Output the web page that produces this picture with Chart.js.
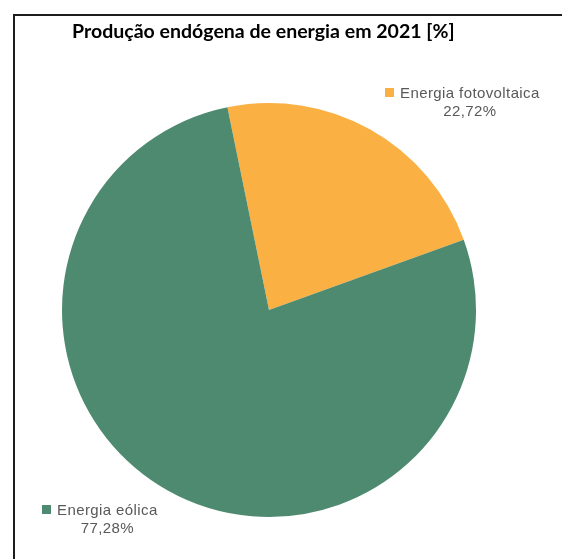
<!DOCTYPE html>
<html>
<head>
<meta charset="utf-8">
<script src="https://cdn.jsdelivr.net/npm/chart.js@4/dist/chart.umd.min.js"></script>
<style>
  html, body { margin: 0; padding: 0; background: #ffffff; overflow: hidden; }
  canvas { display: block; }
</style>
</head>
<body>
<canvas id="c" width="562" height="559"></canvas>
<script>
const categories = ['Energia fotovoltaica', 'Energia eólica'];
const values = [22.72, 77.28];
const sliceColors = ['#FAB042', '#4E8A6F'];
const titleText = 'Produção endógena de energia em 2021 [%]';

const fmtPct = v => v.toFixed(2).replace('.', ',') + '%';

const decorPlugin = {
  id: 'decor',
  afterDraw(chart, args, opts) {
    const ctx = chart.ctx;
    ctx.save();
    // frame
    ctx.fillStyle = '#1c1c1c';
    ctx.fillRect(13, 14, 549, 2);
    ctx.fillRect(13, 14, 2, 545);

    // title
    ctx.fillStyle = '#000000';
    let size = 18;
    ctx.font = 'bold ' + size + 'px Lato, "Liberation Sans", sans-serif';
    const w = ctx.measureText(titleText).width;
    size = size * 383 / w;
    ctx.font = 'bold ' + size.toFixed(2) + 'px Lato, "Liberation Sans", sans-serif';
    ctx.textBaseline = 'alphabetic';
    ctx.textAlign = 'left';
    ctx.fillText(titleText, 72, 38);

    // data labels
    ctx.font = '15px "Liberation Sans", Arial, sans-serif';
    if ('letterSpacing' in ctx) ctx.letterSpacing = '0.4px';
    opts.anchors.forEach((a, i) => {
      const name = chart.data.labels[i];
      const val = chart.data.datasets[0].data[i];
      const color = chart.data.datasets[0].backgroundColor[i];
      ctx.fillStyle = color;
      ctx.fillRect(a.x - 15, a.y - 10, 9, 9);
      ctx.fillStyle = '#595959';
      ctx.textAlign = 'left';
      ctx.fillText(name, a.x, a.y);
      const nw = ctx.measureText(name).width;
      ctx.textAlign = 'center';
      ctx.fillText(fmtPct(val), a.x + nw / 2, a.y + 18);
    });
    ctx.restore();
  }
};

new Chart(document.getElementById('c'), {
  type: 'pie',
  data: {
    labels: categories,
    datasets: [{
      data: values,
      backgroundColor: sliceColors,
      borderWidth: 0,
      hoverOffset: 0
    }]
  },
  options: {
    responsive: false,
    animation: false,
    rotation: -11.6,
    layout: { padding: { left: 62, right: 86, top: 103, bottom: 42 } },
    plugins: {
      legend: { display: false },
      tooltip: { enabled: false },
      title: { display: false },
      decor: {
        anchors: [ { x: 400, y: 98 }, { x: 57, y: 515 } ]
      }
    }
  },
  plugins: [decorPlugin]
});
</script>
</body>
</html>
